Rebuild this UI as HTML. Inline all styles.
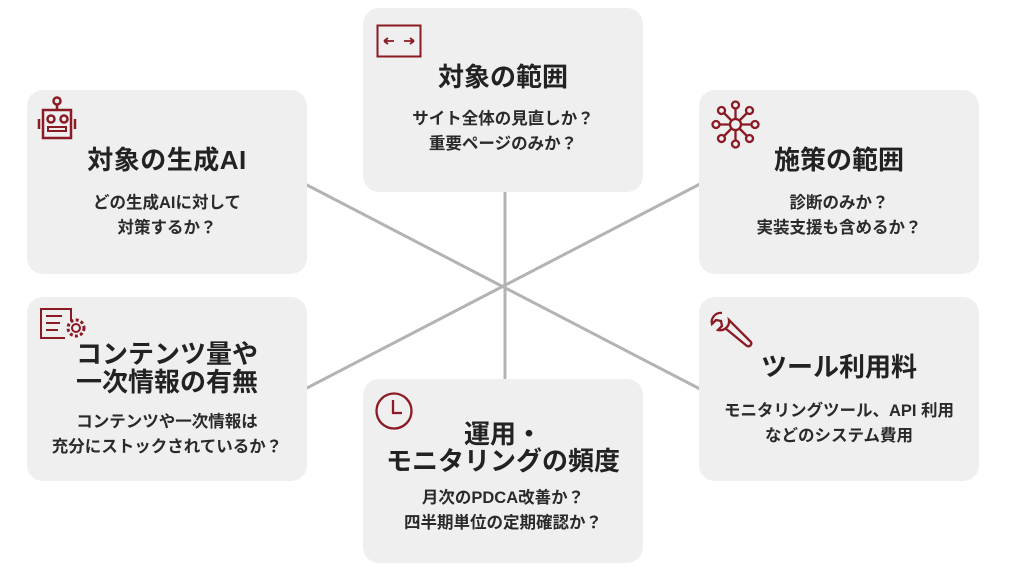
<!DOCTYPE html>
<html><head><meta charset="utf-8"><style>
body{margin:0;width:1011px;height:574px;background:#fff;position:relative;overflow:hidden;font-family:"Liberation Sans","Noto Sans CJK JP",sans-serif;color:#222}
.b{position:absolute;width:280px;height:184px;background:#efefef;border-radius:16px}
.t{position:absolute;left:0;width:280px;text-align:center;font-weight:bold;font-size:26px;line-height:27px}
.d{position:absolute;left:0;width:280px;text-align:center;font-weight:bold;font-size:16.5px;line-height:25px;color:#2a2a2a}
svg.i{position:absolute}
</style></head><body>
<svg style="position:absolute;left:0;top:0" width="1011" height="574">
<g stroke="#b3b3b3" stroke-width="3">
<line x1="505" y1="190" x2="505" y2="382"/>
<line x1="305" y1="184" x2="700" y2="389"/>
<line x1="700" y1="184" x2="305" y2="389"/>
</g></svg>

<div class="b" style="left:363px;top:8px">
<div class="t" style="top:56px">対象の範囲</div>
<div class="d" style="top:99px">サイト全体の見直しか？<br>重要ページのみか？</div></div>
<svg class="i" style="left:376px;top:24px" width="46" height="34"><rect x="1.5" y="1.5" width="43" height="31" fill="none" stroke="#8b1a24" stroke-width="2"/><path d="M8 17h10M8 17l4-3M8 17l4 3M28 17h10M38 17l-4-3M38 17l-4 3" stroke="#8b1a24" stroke-width="1.8" fill="none"/></svg>

<div class="b" style="left:27px;top:90px">
<div class="t" style="top:57px;letter-spacing:0.5px">対象の生成AI</div>
<div class="d" style="top:101px">どの生成AIに対して<br>対策するか？</div></div>
<svg class="i" style="left:36px;top:95px" width="46" height="46" fill="none" stroke="#8b1a24" stroke-width="2.5"><circle cx="21" cy="6" r="3.5"/><line x1="21" y1="10" x2="21" y2="14"/><rect x="7" y="15" width="28" height="28"/><circle cx="15" cy="24" r="3.5"/><circle cx="28" cy="24" r="3.5"/><rect x="12" y="32" width="18" height="4" stroke-width="2"/><line x1="3" y1="24" x2="3" y2="34"/><line x1="39" y1="24" x2="39" y2="34"/></svg>

<div class="b" style="left:699px;top:90px">
<div class="t" style="top:57px">施策の範囲</div>
<div class="d" style="top:101px">診断のみか？<br>実装支援も含めるか？</div></div>
<svg class="i" style="left:711px;top:100px" width="50" height="50" fill="none" stroke="#8b1a24" stroke-width="2.3"><circle cx="24.5" cy="24.5" r="5.5"/><circle cx="24.5" cy="5" r="3.5"/><circle cx="24.5" cy="44" r="3.5"/><circle cx="5" cy="24.5" r="3.5"/><circle cx="44" cy="24.5" r="3.5"/><circle cx="10.5" cy="10.5" r="3.5"/><circle cx="38.5" cy="10.5" r="3.5"/><circle cx="10.5" cy="38.5" r="3.5"/><circle cx="38.5" cy="38.5" r="3.5"/><path d="M24.5 8.5v10.5M24.5 30v10.5M8.5 24.5h10.5M30 24.5h10.5M13 13l7.5 7.5M36 13l-7.5 7.5M13 36l7.5-7.5M36 36l-7.5-7.5"/></svg>

<div class="b" style="left:27px;top:297px">
<div class="t" style="top:43px;line-height:28px">コンテンツ量や<br>一次情報の有無</div>
<div class="d" style="top:113px">コンテンツや一次情報は<br>充分にストックされているか？</div></div>
<svg class="i" style="left:38px;top:306px" width="54" height="38" fill="none" stroke="#8b1a24" stroke-width="2"><path d="M27 32H3V3h30v12"/><path d="M8 10h16M8 17h14M8 24h12"/><circle cx="38" cy="22" r="4"/><circle cx="38" cy="22" r="8" stroke-dasharray="3 2.3" stroke-width="3"/></svg>

<div class="b" style="left:699px;top:297px">
<div class="t" style="top:57px">ツール利用料</div>
<div class="d" style="top:102px">モニタリングツール、API 利用<br>などのシステム費用</div></div>
<svg class="i" style="left:708px;top:310px" width="48" height="46" fill="none" stroke="#8b1a24" stroke-width="2.3"><path d="M14 3a9 9 0 0 0-10 11l4-4 5 1 1 5-4 4a9 9 0 0 0 11-10l22 22a3 3 0 0 1-4 4L17 18"/></svg>

<div class="b" style="left:363px;top:379px">
<div class="t" style="top:42px;line-height:27px">運用・<br>モニタリングの頻度</div>
<div class="d" style="top:107px">月次のPDCA改善か？<br>四半期単位の定期確認か？</div></div>
<svg class="i" style="left:373px;top:390px" width="42" height="42" fill="none" stroke="#8b1a24" stroke-width="2.3"><circle cx="21" cy="21" r="17.5"/><path d="M20 10v13h9"/></svg>
</body></html>
